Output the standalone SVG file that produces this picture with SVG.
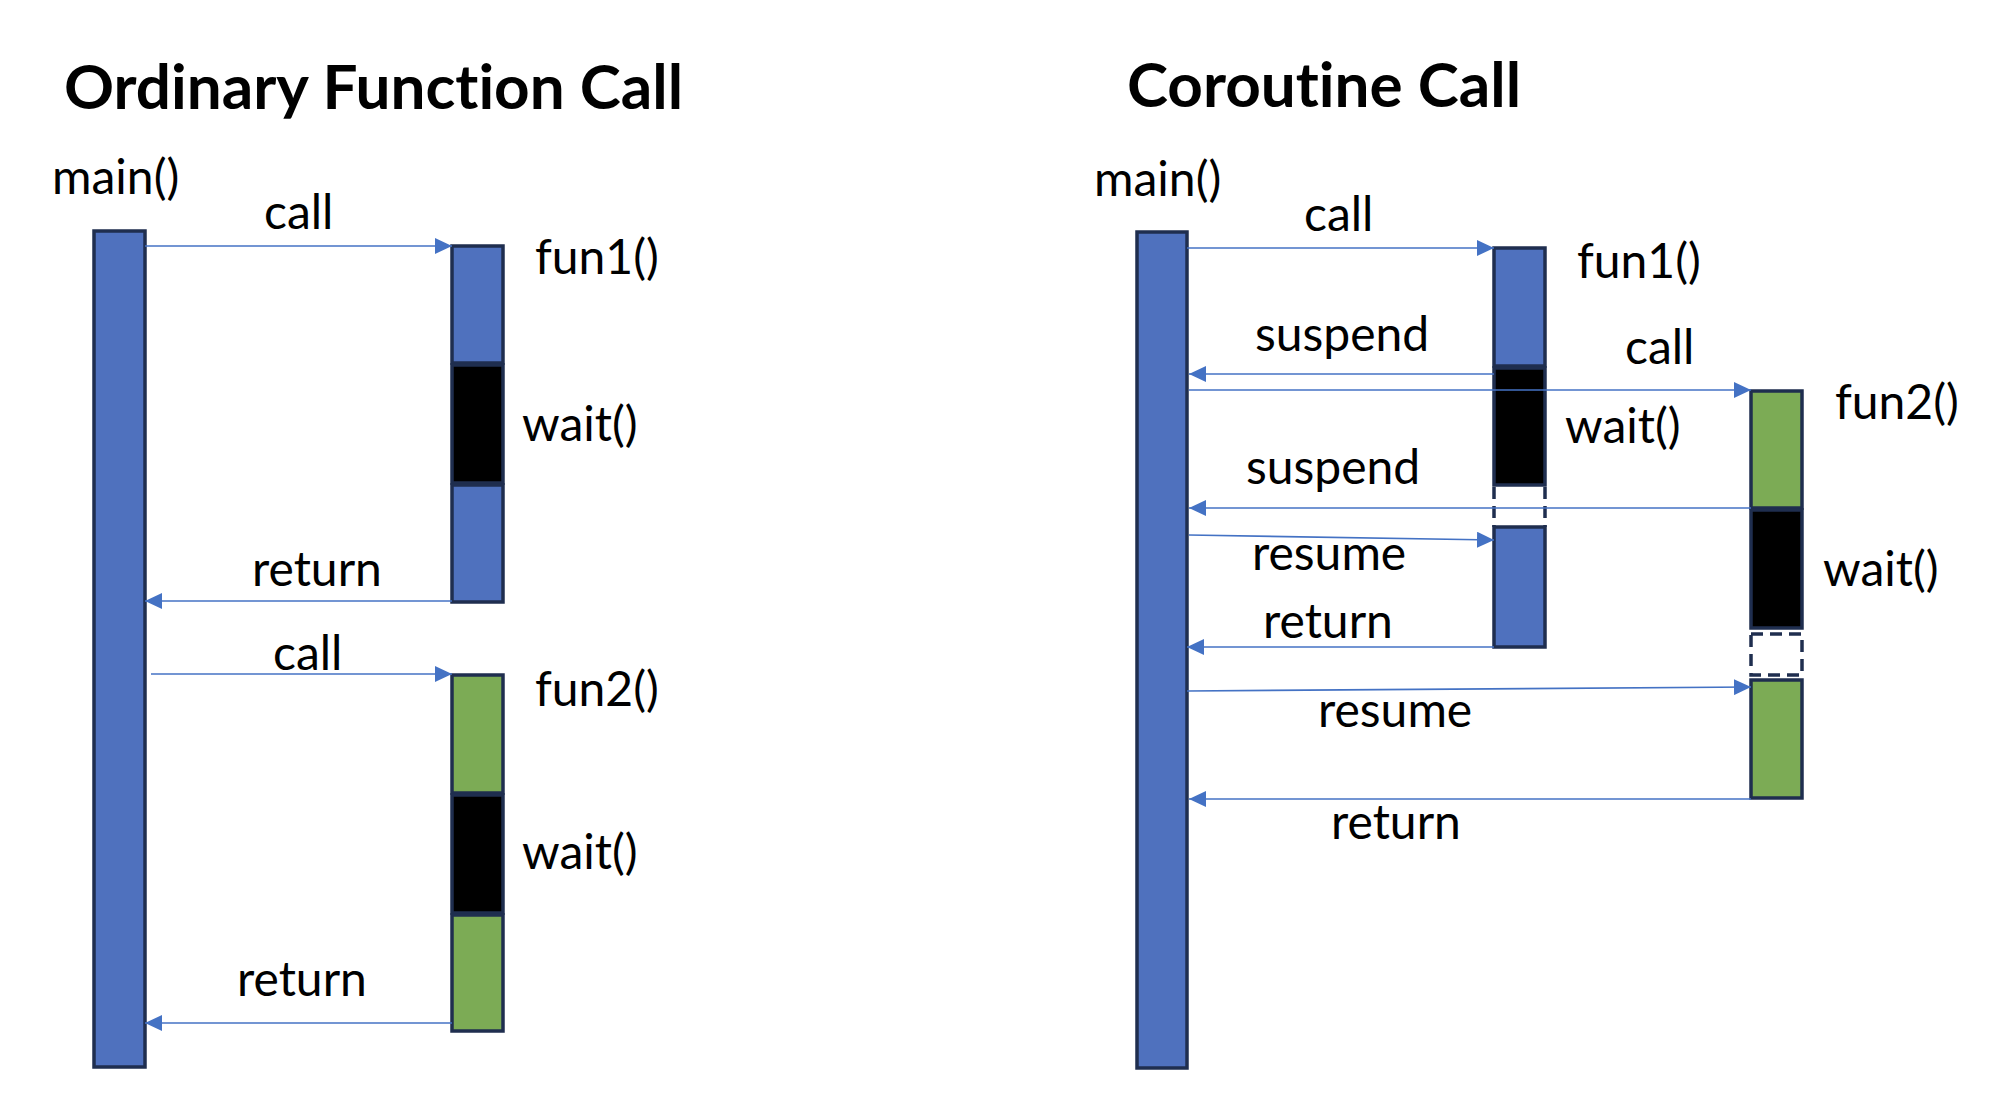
<svg xmlns="http://www.w3.org/2000/svg" width="1998" height="1120" viewBox="0 0 1998 1120">
<style>
.t{font-family:Lato,"Open Sans","Liberation Sans",sans-serif;font-size:48px;fill:#000;font-variant-ligatures:none}
.h{font-family:Lato,"Open Sans","Liberation Sans",sans-serif;font-size:62px;font-weight:bold;fill:#000;font-variant-ligatures:none}
.blue{fill:#4F71BE;stroke:#1F2E4F;stroke-width:3.5}
.green{fill:#7CAB55;stroke:#1F2E4F;stroke-width:3.5}
.blk{fill:#000;stroke:#1F2E4F;stroke-width:3.5}
.dash{fill:none;stroke:#1F2E4F;stroke-width:3.5;stroke-dasharray:12 7}
.c{fill:none;stroke:#4472C4;stroke-width:1.6;marker-end:url(#ah)}
</style>
<defs>
<marker id="ah" markerUnits="userSpaceOnUse" markerWidth="17" markerHeight="16" refX="17" refY="8" orient="auto">
<path d="M0,0 L17,8 L0,16 z" fill="#4472C4"/>
</marker>
</defs>
<rect width="1998" height="1120" fill="#fff"/>
<text class="h" x="64" y="109">Ordinary Function Call</text>
<text class="h" x="1127" y="107">Coroutine Call</text>

<g id="left-main"><rect class="blue" x="94" y="231" width="51" height="836"/><text class="t" x="52" y="194">main()</text></g>
<g id="left-fun1">
<rect class="blue" x="452" y="246" width="51" height="117"/>
<rect class="blk" x="452" y="365" width="51" height="118"/>
<rect class="blue" x="452" y="485" width="51" height="117"/>
<text class="t" x="535" y="274">fun1()</text>
<text class="t" x="522" y="441">wait()</text>
</g>
<g id="left-fun2">
<rect class="green" x="452" y="675" width="51" height="118"/>
<rect class="blk" x="452" y="795" width="51" height="118"/>
<rect class="green" x="452" y="915" width="51" height="116"/>
<text class="t" x="535" y="706">fun2()</text>
<text class="t" x="522" y="869">wait()</text>
</g>

<g id="right-main"><rect class="blue" x="1137" y="232" width="50" height="836"/><text class="t" x="1094" y="196">main()</text></g>
<g id="right-fun1">
<rect class="blue" x="1494" y="248" width="51" height="118"/>
<rect class="blk" x="1494" y="368" width="51" height="117"/>
<line class="dash" x1="1494" y1="487" x2="1494" y2="527"/>
<line class="dash" x1="1545" y1="487" x2="1545" y2="527"/>
<rect class="blue" x="1494" y="527" width="51" height="120"/>
<text class="t" x="1577" y="278">fun1()</text>
<text class="t" x="1565" y="443">wait()</text>
</g>
<g id="right-fun2">
<rect class="green" x="1751" y="391" width="51" height="117"/>
<rect class="blk" x="1751" y="510" width="51" height="118"/>
<rect class="dash" x="1751" y="634" width="51" height="41"/>
<rect class="green" x="1751" y="680" width="51" height="118"/>
<text class="t" x="1835" y="419">fun2()</text>
<text class="t" x="1823" y="586">wait()</text>
</g>

<g id="connectors">
<line class="c" x1="145" y1="246" x2="452" y2="246"/>
<line class="c" x1="452" y1="601" x2="145" y2="601"/>
<line class="c" x1="151" y1="674" x2="452" y2="674"/>
<line class="c" x1="452" y1="1023" x2="145" y2="1023"/>
<line class="c" x1="1187" y1="248" x2="1494" y2="248"/>
<line class="c" x1="1494" y1="374" x2="1189" y2="374"/>
<line class="c" x1="1189" y1="390" x2="1751" y2="390"/>
<line class="c" x1="1751" y1="508" x2="1189" y2="508"/>
<line class="c" x1="1189" y1="535" x2="1494" y2="540"/>
<line class="c" x1="1494" y1="647" x2="1187" y2="647"/>
<line class="c" x1="1187" y1="691" x2="1751" y2="687"/>
<line class="c" x1="1751" y1="799" x2="1189" y2="799"/>
</g>
<g id="labels">
<text class="t" x="264" y="229">call</text>
<text class="t" x="252" y="586">return</text>
<text class="t" x="273" y="670">call</text>
<text class="t" x="237" y="996">return</text>
<text class="t" x="1304" y="231">call</text>
<text class="t" x="1255" y="351">suspend</text>
<text class="t" x="1625" y="364">call</text>
<text class="t" x="1246" y="484">suspend</text>
<text class="t" x="1252" y="570">resume</text>
<text class="t" x="1263" y="638">return</text>
<text class="t" x="1318" y="727">resume</text>
<text class="t" x="1331" y="839">return</text>
</g>
</svg>
